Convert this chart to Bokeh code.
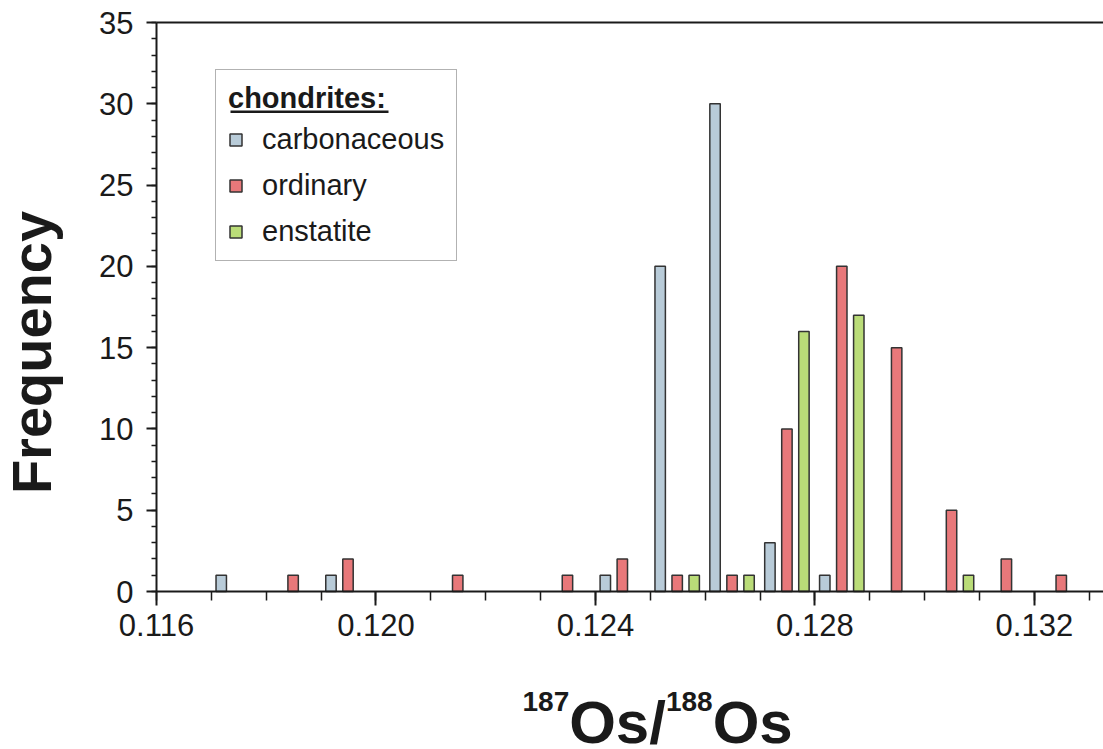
import math

from bokeh.plotting import figure
from bokeh.models import (Range1d, SingleIntervalTicker, FixedTicker, LinearAxis, Legend,
                          LegendItem, Label, BoxAnnotation, PrintfTickFormatter)
from bokeh.embed import file_html
from bokeh.resources import INLINE

# 187Os/188Os histogram: lower edge of each 0.001-wide bin and its count, per chondrite group
carb_bins = [0.117, 0.119, 0.124, 0.125, 0.126, 0.127, 0.128]
carb_counts = [1, 1, 1, 20, 30, 3, 1]

ord_bins = [0.118, 0.119, 0.121, 0.123, 0.124, 0.125, 0.126, 0.127, 0.128, 0.129,
            0.130, 0.131, 0.132]
ord_counts = [1, 2, 1, 1, 2, 1, 1, 10, 20, 15, 5, 2, 1]

ens_bins = [0.125, 0.126, 0.127, 0.128, 0.130]
ens_counts = [1, 1, 16, 17, 1]

x_major_ticks = [0.116, 0.120, 0.124, 0.128, 0.132]

# ---- layout / style -------------------------------------------------------
W, H = 1103, 749
# plotting area inside the canvas (pixels): axes meet at (LEFT, H - BOTTOM)
LEFT, TOP, BOTTOM = 156, 22, 158
X0, X1 = 0.116, 0.13326
Y0, Y1 = 0, 35
BIN = 0.001
BAR_W = 0.00019
DODGE = {"carb": 0.00018, "ord": 0.00049, "ens": 0.00080}
COLORS = {"carb": "#b8cbd8", "ord": "#e8787a", "ens": "#badc78"}
EDGE = "#333333"
INK = "#1a1a1a"
FONT = "Liberation Sans"

# The frame covers the whole canvas; the axes are pinned at x=X0 / y=Y0 so that the
# axis titles can sit in the margins as ordinary labels.
xs_per_px = (X1 - X0) / (W - LEFT)
ys_per_px = (Y1 - Y0) / (H - TOP - BOTTOM)
x_range = Range1d(X0 - LEFT * xs_per_px, X1)
y_range = Range1d(Y0 - BOTTOM * ys_per_px, Y1 + TOP * ys_per_px)


def px(xp, yp):
    """Canvas pixel -> data coordinates."""
    return (x_range.start + xp * xs_per_px, y_range.end - yp * ys_per_px)


p = figure(width=W, height=H, x_range=x_range, y_range=y_range,
           output_backend="svg", toolbar_location=None, min_border=0)
p.grid.visible = False
p.outline_line_color = None
p.background_fill_color = "white"
p.border_fill_color = "white"


def bars(bins, counts, key):
    xs = [b + DODGE[key] for b in bins]
    return p.vbar(x=xs, top=counts, bottom=0, width=BAR_W,
                  fill_color=COLORS[key], line_color=EDGE, line_width=1.5)


r_carb = bars(carb_bins, carb_counts, "carb")
r_ord = bars(ord_bins, ord_counts, "ord")
r_ens = bars(ens_bins, ens_counts, "ens")

# ---- axes -----------------------------------------------------------------
xa = p.xaxis[0]
xa.fixed_location = Y0
xa.bounds = (X0, X1)
xa.ticker = FixedTicker(ticks=x_major_ticks,
                        minor_ticks=[round(X0 + BIN * i, 3) for i in range(18)])
xa.formatter = PrintfTickFormatter(format="%.3f")
xa.major_tick_in = 0
xa.major_tick_out = 14
xa.minor_tick_in = 0
xa.minor_tick_out = 9
xa.major_label_standoff = 8

ya = p.yaxis[0]
ya.fixed_location = X0
ya.bounds = (Y0, Y1)
ya.ticker = SingleIntervalTicker(interval=5, num_minor_ticks=5)
ya.major_tick_in = 0
ya.major_tick_out = 10
ya.minor_tick_in = 0
ya.minor_tick_out = 5
ya.major_label_standoff = 13

for ax in (xa, ya):
    ax.axis_line_width = 2
    ax.axis_line_color = INK
    ax.major_tick_line_width = 2
    ax.major_tick_line_color = INK
    ax.minor_tick_line_width = 1.5
    ax.minor_tick_line_color = INK
    ax.major_label_text_font = FONT
    ax.major_label_text_font_size = "31px"
    ax.major_label_text_color = INK

top_axis = LinearAxis(fixed_location=Y1, bounds=(X0, X1), ticker=FixedTicker(ticks=[]),
                      axis_line_width=2, axis_line_color=INK,
                      major_tick_line_color=None, minor_tick_line_color=None,
                      major_label_text_font_size="0px")
p.add_layout(top_axis, "above")

# ---- axis titles ----------------------------------------------------------
fx, fy = px(31, 352)
p.add_layout(Label(x=fx, y=fy, text="Frequency", angle=math.pi / 2,
                   text_align="center", text_baseline="middle",
                   text_font=FONT, text_font_size="56px", text_font_style="bold",
                   text_color=INK))

BIG, SUP = 60, 28
# advance widths (em) of Liberation Sans Bold, used to set the runs side by side
ADV = {"1": 0.556, "7": 0.556, "8": 0.556, "O": 0.778, "s": 0.556, "/": 0.278}
runs = [("187", SUP, 701), ("Os/", BIG, 722), ("188", SUP, 701), ("Os", BIG, 722)]
cursor = 522.0
for text, size, mid in runs:
    lx, ly = px(cursor, mid)
    p.add_layout(Label(x=lx, y=ly, text=text, text_align="left", text_baseline="middle",
                       text_font=FONT, text_font_size=f"{size}px",
                       text_font_style="bold", text_color=INK))
    cursor += sum(ADV[c] for c in text) * size

# ---- legend ---------------------------------------------------------------
# underline beneath the legend heading (the legend itself has a clear background)
ul_l, ul_t = px(230, 110)
ul_r, ul_b = px(388, 112.5)
p.add_layout(BoxAnnotation(left=ul_l, right=ul_r, bottom=ul_b, top=ul_t,
                           fill_color=INK, fill_alpha=1.0, line_color=None))

legend = Legend(items=[LegendItem(label="carbonaceous", renderers=[r_carb]),
                       LegendItem(label="ordinary", renderers=[r_ord]),
                       LegendItem(label="enstatite", renderers=[r_ens])],
                title="chondrites:", location=(LEFT + 59, BOTTOM + 330), margin=0,
                padding=12, spacing=12, glyph_width=15, glyph_height=15,
                label_standoff=19, label_height=34, title_standoff=7,
                label_text_font=FONT, label_text_font_size="29px",
                label_text_color=INK,
                title_text_font=FONT, title_text_font_size="29px",
                title_text_font_style="bold", title_text_color=INK,
                border_line_color="#666666", border_line_width=1.5,
                background_fill_alpha=0.0)
p.add_layout(legend)

open("out.html", "w").write(file_html(p, INLINE))
